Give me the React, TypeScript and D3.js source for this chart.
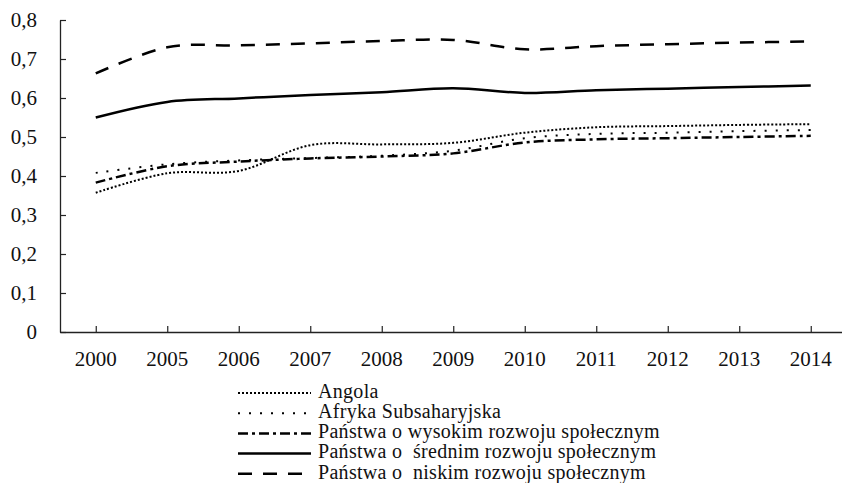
import React, { useRef, useEffect } from 'react';
import * as d3 from 'd3';

const years = ['2000', '2005', '2006', '2007', '2008', '2009', '2010', '2011', '2012', '2013', '2014'];

const angola = [0.357, 0.407, 0.413, 0.479, 0.481, 0.485, 0.511, 0.525, 0.528, 0.531, 0.533];
const afryka = [0.408, 0.43, 0.44, 0.446, 0.452, 0.465, 0.497, 0.508, 0.511, 0.515, 0.518];
const wysoki = [0.383, 0.425, 0.437, 0.445, 0.45, 0.458, 0.486, 0.494, 0.497, 0.5, 0.503];
const sredni = [0.55, 0.59, 0.599, 0.608, 0.615, 0.625, 0.613, 0.62, 0.624, 0.628, 0.632];
const niski = [0.663, 0.73, 0.735, 0.74, 0.746, 0.749, 0.725, 0.733, 0.738, 0.742, 0.745];

const yTicks = [0, 0.1, 0.2, 0.3, 0.4, 0.5, 0.6, 0.7, 0.8];

const seriesNames = [
  'Angola',
  'Afryka Subsaharyjska',
  'Państwa o wysokim rozwoju społecznym',
  'Państwa o  średnim rozwoju społecznym',
  'Państwa o  niskim rozwoju społecznym',
];

const series = [
  { name: seriesNames[0], values: angola, dash: '2,2', width: 2 },
  { name: seriesNames[1], values: afryka, dash: '2,9', width: 2 },
  { name: seriesNames[2], values: wysoki, dash: '10,4,3,4', width: 2.5 },
  { name: seriesNames[3], values: sredni, dash: null, width: 2.5 },
  { name: seriesNames[4], values: niski, dash: '14,11', width: 2.5 },
];

const FONT = 'Liberation Serif';

export default function App() {
  const ref = useRef<SVGSVGElement | null>(null);

  useEffect(() => {
    if (!ref.current) return;
    const svg = d3.select(ref.current);
    svg.selectAll('*').remove();

    const left = 60;
    const step = 71.5;
    const x = d3.scalePoint<string>().domain(years).range([left, left + step * years.length]).padding(0.5);
    const y = d3.scaleLinear().domain([0, 0.8]).range([332, 20]);

    // y axis, ticks pointing inward
    const yAxis = svg.append('g')
      .attr('transform', `translate(${left},0)`)
      .call(d3.axisRight(y).tickValues(yTicks).tickSize(6).tickSizeOuter(0).tickFormat(() => ''));
    yAxis.select('.domain').attr('stroke', '#222').attr('stroke-width', 1.3);
    yAxis.selectAll('.tick line').attr('stroke', '#222').attr('stroke-width', 1.2);

    svg.append('g')
      .selectAll('text')
      .data(yTicks)
      .join('text')
      .attr('x', 37)
      .attr('y', d => y(d))
      .attr('dy', '0.35em')
      .attr('text-anchor', 'end')
      .attr('font-family', FONT)
      .attr('font-size', 21)
      .attr('fill', '#111')
      .text(d => (d === 0 ? '0' : d3.format('.1f')(d).replace('.', ',')));

    // x axis, ticks pointing up
    const xAxis = svg.append('g')
      .attr('transform', `translate(0,${y(0)})`)
      .call(d3.axisTop(x).tickSize(6).tickSizeOuter(0).tickFormat(() => ''));
    xAxis.select('.domain').attr('stroke', '#222').attr('stroke-width', 1.3);
    xAxis.selectAll('.tick line').attr('stroke', '#222').attr('stroke-width', 1.2);

    svg.append('g')
      .selectAll('text')
      .data(years)
      .join('text')
      .attr('x', d => x(d)!)
      .attr('y', 366)
      .attr('text-anchor', 'middle')
      .attr('font-family', FONT)
      .attr('font-size', 21)
      .attr('fill', '#111')
      .text(d => d);

    const line = d3.line<number>()
      .x((_, i) => x(years[i])!)
      .y(d => y(d))
      .curve(d3.curveCardinal.tension(0));

    series.forEach(s => {
      svg.append('path')
        .datum(s.values)
        .attr('fill', 'none')
        .attr('stroke', '#000')
        .attr('stroke-width', s.width)
        .attr('stroke-dasharray', s.dash)
        .attr('d', line);
    });

    // legend
    const legend = svg.append('g');
    series.forEach((s, i) => {
      const ly = 393 + i * 20.2;
      legend.append('line')
        .attr('x1', 238).attr('x2', 311)
        .attr('y1', ly).attr('y2', ly)
        .attr('stroke', '#000')
        .attr('stroke-width', s.width)
        .attr('stroke-dasharray', s.dash);
      legend.append('text')
        .attr('x', 318)
        .attr('y', ly + 4.8)
        .attr('font-family', FONT)
        .attr('font-size', 20)
        .attr('letter-spacing', 0.3)
        .attr('fill', '#111')
        .style('white-space', 'pre')
        .text(s.name);
    });
  }, []);

  return (
    <svg
      ref={ref}
      width={842}
      height={483}
      style={{ position: 'absolute', left: 0, top: 0, background: '#fff' }}
    />
  );
}
